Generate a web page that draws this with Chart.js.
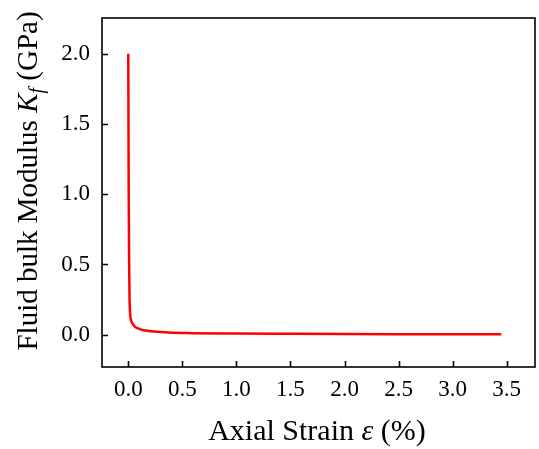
<!DOCTYPE html>
<html>

<head>
    <script src="https://cdn.jsdelivr.net/npm/chart.js"></script>
    <title>Fluid bulk modulus vs axial strain</title>
    <style>
        body { margin: 0; background: #fff; }
    </style>
</head>

<body>
    <canvas id="chart" width="539" height="449"></canvas>

    <script>
        // values
        const strain = [0, 0.004, 0.008, 0.012, 0.016, 0.025, 0.04, 0.06, 0.09, 0.12, 0.21, 0.37, 0.6, 1.0, 1.5, 2.0, 2.5, 3.0, 3.45];
        const modulus = [2.0, 1.0, 0.5, 0.25, 0.16, 0.105, 0.078, 0.058, 0.045, 0.036, 0.024, 0.016, 0.011, 0.008, 0.006, 0.0045, 0.0035, 0.003, 0.0025];

        const xTicks = [0, 0.5, 1.0, 1.5, 2.0, 2.5, 3.0, 3.5];
        const yTicks = [0, 0.5, 1.0, 1.5, 2.0];

        const xTitle = [['Axial Strain ', 'normal'], ['\u03b5', 'italic'], [' (%)', 'normal']];
        const yTitle = [['Fluid bulk Modulus ', 'normal'], ['K', 'italic'], ['f', 'sub'], [' (GPa)', 'normal']];

        const serif = "'Liberation Serif', 'Times New Roman', serif";

        function fontFor(style, size) {
            if (style === 'italic') return 'italic ' + size + 'px ' + serif;
            if (style === 'sub') return 'italic ' + Math.round(size * 0.7) + 'px ' + serif;
            return size + 'px ' + serif;
        }

        function drawRich(ctx, parts, x, y, size) {
            let total = 0;
            for (const [text, style] of parts) {
                ctx.font = fontFor(style, size);
                total += ctx.measureText(text).width;
            }
            let cx = x - total / 2;
            for (const [text, style] of parts) {
                ctx.font = fontFor(style, size);
                ctx.fillText(text, cx, style === 'sub' ? y + 6 : y);
                cx += ctx.measureText(text).width;
            }
        }

        const framePlugin = {
            id: 'frame',
            afterDraw(chart) {
                const ctx = chart.ctx;
                const area = chart.chartArea;
                const xs = chart.scales.x;
                const ys = chart.scales.y;
                ctx.save();
                ctx.strokeStyle = '#000';
                ctx.lineWidth = 1.6;
                ctx.strokeRect(area.left, area.top, area.right - area.left, area.bottom - area.top);

                // inward tick marks
                ctx.beginPath();
                for (const v of xTicks) {
                    const px = Math.round(xs.getPixelForValue(v)) + 0.5;
                    ctx.moveTo(px, area.bottom);
                    ctx.lineTo(px, area.bottom - 6);
                }
                for (const v of yTicks) {
                    const py = Math.round(ys.getPixelForValue(v)) + 0.5;
                    ctx.moveTo(area.left, py);
                    ctx.lineTo(area.left + 6, py);
                }
                ctx.stroke();

                // axis titles
                ctx.fillStyle = '#000';
                ctx.textBaseline = 'alphabetic';
                drawRich(ctx, xTitle, 317, 440, 30);
                ctx.translate(37, 181);
                ctx.rotate(-Math.PI / 2);
                drawRich(ctx, yTitle, 0, 0, 29);
                ctx.restore();
            }
        };

        new Chart(document.getElementById('chart'), {
            type: 'line',
            data: {
                datasets: [{
                    data: strain.map((s, i) => ({ x: s, y: modulus[i] })),
                    borderColor: '#ff0000',
                    borderWidth: 2.5,
                    pointRadius: 0,
                    fill: false,
                    cubicInterpolationMode: 'monotone'
                }]
            },
            options: {
                responsive: false,
                animation: false,
                layout: {
                    padding: { top: 18, right: 4, left: 0, bottom: 0 }
                },
                plugins: {
                    legend: { display: false },
                    tooltip: { enabled: false }
                },
                scales: {
                    x: {
                        type: 'linear',
                        min: -0.243,
                        max: 3.762,
                        afterBuildTicks: scale => { scale.ticks = xTicks.map(v => ({ value: v })); },
                        afterFit: scale => {
                            scale.height = 82;
                            scale.paddingLeft = 0;
                            scale.paddingRight = 0;
                        },
                        grid: { display: false, drawTicks: false },
                        border: { display: false },
                        ticks: {
                            color: '#000',
                            padding: 9,
                            maxRotation: 0,
                            font: { family: serif, size: 23 },
                            callback: v => v.toFixed(1)
                        }
                    },
                    y: {
                        min: -0.23,
                        max: 2.255,
                        afterBuildTicks: scale => { scale.ticks = yTicks.map(v => ({ value: v })); },
                        afterFit: scale => {
                            scale.width = 102;
                            scale.paddingTop = 0;
                            scale.paddingBottom = 0;
                        },
                        grid: { display: false, drawTicks: false },
                        border: { display: false },
                        ticks: {
                            color: '#000',
                            padding: 12,
                            font: { family: serif, size: 23 },
                            callback: v => v.toFixed(1)
                        }
                    }
                }
            },
            plugins: [framePlugin]
        });
    </script>
</body>

</html>
